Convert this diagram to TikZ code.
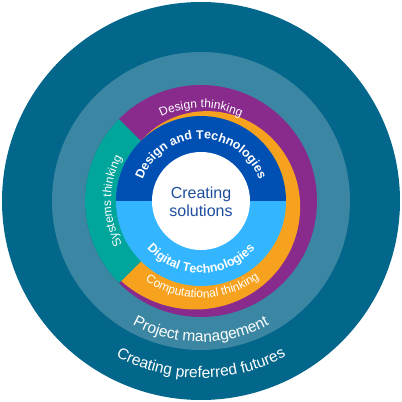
\documentclass[tikz,border=0pt]{standalone}
\usepackage{fontspec}
\setmainfont{Liberation Sans}
\usetikzlibrary{decorations.text}

\definecolor{futuresblue}{HTML}{03668B}
\definecolor{projectteal}{HTML}{3B86A2}
\definecolor{designpurple}{HTML}{892B8D}
\definecolor{computeorange}{HTML}{F7A21E}
\definecolor{systemsteal}{HTML}{00A59C}
\definecolor{dandtblue}{HTML}{0050B4}
\definecolor{digitalblue}{HTML}{33B6FF}
\definecolor{coretext}{HTML}{1D4E9E}

\tikzset{
    ringlabel/.style={decorate, decoration={text along path, text align=center, text color=white, text={#1}}},
}

\begin{document}
\begin{tikzpicture}[x=1pt, y=1pt]
    \useasboundingbox (-201,-201) rectangle (201,201);
    % rings, outside in
    \fill[futuresblue] (0,0) circle[radius=199pt];
    \fill[projectteal] (0,0) circle[radius=149pt];
    \fill[designpurple] (0,0) circle[radius=116pt];
    \fill[computeorange] plot[domain=0:270, samples=120] ({(85+28*\x/270)*cos(135-\x)}, {(85+28*\x/270)*sin(135-\x)}) -- (0,0) -- cycle;
    \fill[systemsteal] (0,0) -- (135:116pt) arc[start angle=135, end angle=225, radius=116pt] -- cycle;
    \fill[dandtblue] (0:85pt) arc[start angle=0, end angle=180, radius=85pt] -- cycle;
    \fill[digitalblue] (180:85pt) arc[start angle=180, end angle=360, radius=85pt] -- cycle;
    \fill[white] (0,0) circle[radius=49pt];
    \node[text=coretext, align=center, font=\fontsize{16}{18.5}\selectfont] (core) at (0,-1) {Creating\\solutions};
    % labels along the rings
    \path[ringlabel={|\fontsize{12.5}{14}\selectfont\bfseries|Design and Technologies}] (180:62pt) arc[start angle=180, end angle=0, radius=62pt];
    \path[ringlabel={|\fontsize{12.5}{14}\selectfont\bfseries|Digital Technologies}] (180:72pt) arc[start angle=180, end angle=360, radius=72pt];
    \path[ringlabel={|\fontsize{12}{14}\selectfont|Design thinking}] (180:93pt) arc[start angle=180, end angle=0, radius=93pt];
    \path[ringlabel={|\fontsize{12}{14}\selectfont|Computational thinking}] (181:97pt) arc[start angle=181, end angle=361, radius=97pt];
    \path[ringlabel={|\fontsize{12}{14}\selectfont|Systems thinking}] (270:90pt) arc[start angle=270, end angle=90, radius=90pt];
    \path[ringlabel={|\fontsize{15.5}{18}\selectfont|Project management}] (180:141pt) arc[start angle=180, end angle=360, radius=141pt];
    \path[ringlabel={|\fontsize{15.5}{18}\selectfont|Creating preferred futures}] (180:177pt) arc[start angle=180, end angle=360, radius=177pt];
\end{tikzpicture}
\end{document}
